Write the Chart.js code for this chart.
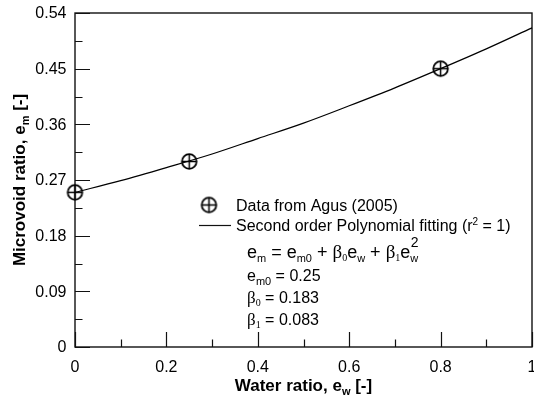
<!DOCTYPE html>
<html>
<head>
<meta charset="utf-8">
<script src="https://cdn.jsdelivr.net/npm/chart.js@4/dist/chart.umd.min.js"></script>
<style>
html,body{margin:0;padding:0;background:#fff;}
canvas{display:block;}
</style>
</head>
<body>
<canvas id="c" width="534" height="398"></canvas>
<script>
// Measured data (Agus 2005)
const waterRatio = [0, 0.25, 0.8];
const microvoidRatio = [0.25, 0.30, 0.45];
// Fitted curve
const fitWater = [0, 0.1, 0.2, 0.3, 0.4, 0.5, 0.6, 0.7, 0.8, 0.9, 1.0];
const fitMicrovoid = [0.25, 0.269, 0.29, 0.312, 0.337, 0.362, 0.39, 0.419, 0.45, 0.482, 0.516];
// Ticks
const xTicks = [0, 0.2, 0.4, 0.6, 0.8, 1];
const xTickLabels = ['0', '0.2', '0.4', '0.6', '0.8', '1'];
const xMinorTicks = [0.1, 0.3, 0.5, 0.7, 0.9];
const yTicks = [0, 0.09, 0.18, 0.27, 0.36, 0.45, 0.54];
const yTickLabels = ['0', '0.09', '0.18', '0.27', '0.36', '0.45', '0.54'];
const yMinorTicks = [0.045, 0.135, 0.225, 0.315, 0.405, 0.495];
// Legend / annotation texts
const legendData = 'Data from Agus (2005)';
const legendFit = 'Second order Polynomial fitting (r';
const paramEm0 = '0.25';
const paramB0 = '0.183';
const paramB1 = '0.083';

const SANS = '"Liberation Sans", Arial, sans-serif';
const SERIF = '"Liberation Serif", "Times New Roman", serif';

function makeMarker() {
  const c = document.createElement('canvas');
  c.width = 19; c.height = 19;
  const g = c.getContext('2d');
  g.strokeStyle = '#000';
  g.lineWidth = 1.8;
  g.beginPath(); g.arc(9.5, 9.5, 7.3, 0, Math.PI * 2); g.stroke();
  g.lineWidth = 1.5;
  g.beginPath();
  g.moveTo(2.2, 9.5); g.lineTo(16.8, 9.5);
  g.moveTo(9.5, 2.2); g.lineTo(9.5, 16.8);
  g.stroke();
  return c;
}
const marker = makeMarker();

function richWidth(ctx, segs) {
  let w = 0;
  for (const s of segs) { ctx.font = s.font; w += ctx.measureText(s.t).width; }
  return w;
}
function drawRich(ctx, x, y, segs) {
  ctx.textBaseline = 'alphabetic';
  ctx.textAlign = 'left';
  for (const s of segs) {
    ctx.font = s.font;
    ctx.fillText(s.t, x, y + (s.dy || 0));
    x += ctx.measureText(s.t).width;
  }
  return x;
}

const decor = {
  id: 'decor',
  beforeDatasetsDraw(chart) {
    const ctx = chart.ctx;
    const a = chart.chartArea;
    const xs = chart.scales.x, ys = chart.scales.y;
    ctx.save();
    ctx.strokeStyle = '#111';
    ctx.lineWidth = 1.4;
    ctx.strokeRect(a.left, a.top, a.right - a.left, a.bottom - a.top);
    ctx.lineWidth = 1.2;
    ctx.beginPath();
    for (const v of xTicks) { const p = Math.round(xs.getPixelForValue(v)) + 0.5; ctx.moveTo(p, a.bottom); ctx.lineTo(p, a.bottom - 15); }
    for (const v of xMinorTicks) { const p = Math.round(xs.getPixelForValue(v)) + 0.5; ctx.moveTo(p, a.bottom); ctx.lineTo(p, a.bottom - 7.5); }
    for (const v of yTicks) { const p = Math.round(ys.getPixelForValue(v)) + 0.5; ctx.moveTo(a.left, p); ctx.lineTo(a.left + 15, p); }
    for (const v of yMinorTicks) { const p = Math.round(ys.getPixelForValue(v)) + 0.5; ctx.moveTo(a.left, p); ctx.lineTo(a.left + 7.5, p); }
    ctx.stroke();

    // tick labels
    ctx.fillStyle = '#000';
    ctx.font = '16px ' + SANS;
    ctx.textAlign = 'right'; ctx.textBaseline = 'middle';
    yTicks.forEach((v, i) => ctx.fillText(yTickLabels[i], 66.5, ys.getPixelForValue(v) + 1));
    ctx.textAlign = 'center'; ctx.textBaseline = 'alphabetic';
    xTicks.forEach((v, i) => ctx.fillText(xTickLabels[i], xs.getPixelForValue(v), 371.5));

    // axis titles
    const B = 'bold 17px ' + SANS, Bs = 'bold 11px ' + SANS;
    const xt = [{t: 'Water ratio, e', font: B}, {t: 'w', font: Bs, dy: 4}, {t: ' [-]', font: B}];
    const xw = richWidth(ctx, xt);
    drawRich(ctx, (a.left + a.right) / 2 - xw / 2, 391, xt);
    const yt = [{t: 'Microvoid ratio, e', font: B}, {t: 'm', font: Bs, dy: 4}, {t: ' [-]', font: B}];
    const yw = richWidth(ctx, yt);
    ctx.save();
    ctx.translate(25, (a.top + a.bottom) / 2);
    ctx.rotate(-Math.PI / 2);
    drawRich(ctx, -yw / 2, 0, yt);
    ctx.restore();

    // legend
    ctx.drawImage(marker, 209 - 9.5, 205 - 9.5);
    ctx.lineWidth = 1.2;
    ctx.beginPath(); ctx.moveTo(199, 225.5); ctx.lineTo(231, 225.5); ctx.stroke();
    const R = '16px ' + SANS;
    drawRich(ctx, 236, 210.5, [{t: legendData, font: R}]);
    drawRich(ctx, 236, 231, [{t: legendFit, font: R}, {t: '2', font: '10px ' + SANS, dy: -6}, {t: ' = 1)', font: R}]);

    // equation
    const E = '18px ' + SANS, Es = '11px ' + SANS, G = '19px ' + SERIF, Gs = '10px ' + SERIF;
    const xEnd = drawRich(ctx, 247, 258, [
      {t: 'e', font: E}, {t: 'm', font: Es, dy: 4}, {t: ' = e', font: E}, {t: 'm0', font: Es, dy: 4},
      {t: ' + ', font: E}, {t: '\u03B2', font: G}, {t: '0', font: Gs, dy: 3}, {t: 'e', font: E}, {t: 'w', font: Es, dy: 4},
      {t: ' + ', font: E}, {t: '\u03B2', font: G}, {t: '1', font: Gs, dy: 3}, {t: 'e', font: E}
    ]);
    ctx.font = Es;
    ctx.fillText('w', xEnd, 262);
    ctx.font = '14px ' + SANS;
    ctx.fillText('2', xEnd + 0.5, 246.5);
    drawRich(ctx, 247, 281, [{t: 'e', font: R}, {t: 'm0', font: '11px ' + SANS, dy: 4}, {t: ' = ' + paramEm0, font: R}]);
    drawRich(ctx, 247, 303, [{t: '\u03B2', font: '17px ' + SERIF}, {t: '0', font: Gs, dy: 3}, {t: ' = ' + paramB0, font: R}]);
    drawRich(ctx, 247, 325, [{t: '\u03B2', font: '17px ' + SERIF}, {t: '1', font: Gs, dy: 3}, {t: ' = ' + paramB1, font: R}]);
    ctx.restore();
  }
};

new Chart(document.getElementById('c'), {
  type: 'scatter',
  data: {
    datasets: [
      {
        label: 'Second order Polynomial fitting',
        data: fitWater.map((x, i) => ({x, y: fitMicrovoid[i]})),
        showLine: true,
        borderColor: '#000',
        borderWidth: 1.2,
        pointRadius: 0,
        cubicInterpolationMode: 'monotone',
        fill: false,
        clip: false,
        order: 2
      },
      {
        label: 'Data from Agus (2005)',
        data: waterRatio.map((x, i) => ({x, y: microvoidRatio[i]})),
        pointStyle: marker,
        pointRadius: 9,
        showLine: false,
        clip: false,
        order: 1
      }
    ]
  },
  options: {
    responsive: false,
    animation: false,
    devicePixelRatio: 1,
    layout: {autoPadding: false, padding: {left: 75, right: 2, top: 13, bottom: 51}},
    scales: {
      x: {type: 'linear', min: 0, max: 1, display: false},
      y: {type: 'linear', min: 0, max: 0.54, display: false}
    },
    plugins: {legend: {display: false}, tooltip: {enabled: false}}
  },
  plugins: [decor]
});
</script>
</body>
</html>
